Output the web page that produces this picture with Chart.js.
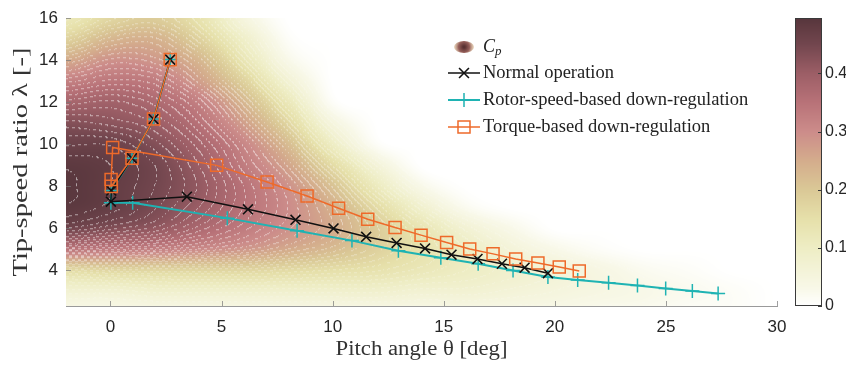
<!DOCTYPE html>
<html>
<head>
<meta charset="utf-8">
<title>Cp map with operating points</title>
<style>
  body { margin: 0; background: #fff; }
  #wrap { position: relative; width: 846px; height: 378px; }
</style>
</head>
<body>
<div id="wrap"><canvas id="cpChart"></canvas></div>
<script src="https://cdn.jsdelivr.net/npm/chart.js@4.4.1/dist/chart.umd.min.js"></script>
<script>
// tick labels
var xTicks = [0, 5, 10, 15, 20, 25, 30];
var yTicks = [4, 6, 8, 10, 12, 14, 16];
var cbTicks = [0, 0.1, 0.2, 0.3, 0.4];

// operating points, pitch angle [deg] and tip-speed ratio [-]
var normalPitch = [2.69, 1.94, 0.97, 0.04, 0.02, 3.44, 6.19, 8.33, 10.04, 11.51, 12.88, 14.16, 15.35, 16.52, 17.62, 18.64, 19.69];
var normalTsr   = [14.03, 11.2, 9.34, 7.8, 7.27, 7.51, 6.91, 6.41, 6.0, 5.6, 5.31, 5.05, 4.75, 4.55, 4.32, 4.13, 3.87];

var rotorPitch = [2.69, 1.94, 0.97, 0.04, 0.02, 1.0, 5.26, 8.4, 10.87, 12.96, 14.87, 16.55, 18.12, 19.69, 21.03, 22.42, 23.72, 24.99, 26.19, 27.35];
var rotorTsr   = [14.03, 11.2, 9.34, 7.8, 7.22, 7.22, 6.49, 5.89, 5.42, 4.94, 4.6, 4.32, 4.0, 3.69, 3.55, 3.42, 3.29, 3.14, 3.02, 2.9];

var torquePitch = [2.69, 1.94, 0.97, 0.04, 0.03, 0.1, 4.78, 7.05, 8.85, 10.27, 11.58, 12.81, 13.98, 15.13, 16.17, 17.22, 18.24, 19.24, 20.2, 21.1];
var torqueTsr   = [14.03, 11.2, 9.34, 8.0, 8.33, 9.85, 9.0, 8.21, 7.54, 6.96, 6.44, 6.04, 5.68, 5.33, 5.02, 4.79, 4.55, 4.36, 4.16, 3.97];

// Cp surface, rough values (rows: tsr, cols: pitch)
var cpPitch = [-2, 0, 2, 4, 6, 8, 10, 12, 14, 16, 18, 20, 22, 24, 26, 28, 30];
var cpTsr = [16, 15, 14, 13, 12, 11, 10, 9, 8, 7, 6, 5, 4, 3, 2];
var cpValues = [
  [0.12, 0.17, 0.19, 0.14, 0.05, 0.00, 0, 0, 0, 0, 0, 0, 0, 0, 0, 0, 0],
  [0.18, 0.23, 0.24, 0.18, 0.09, 0.01, 0, 0, 0, 0, 0, 0, 0, 0, 0, 0, 0],
  [0.25, 0.29, 0.28, 0.23, 0.13, 0.03, 0, 0, 0, 0, 0, 0, 0, 0, 0, 0, 0],
  [0.32, 0.34, 0.33, 0.27, 0.18, 0.07, 0, 0, 0, 0, 0, 0, 0, 0, 0, 0, 0],
  [0.38, 0.39, 0.37, 0.32, 0.23, 0.12, 0.01, 0, 0, 0, 0, 0, 0, 0, 0, 0, 0],
  [0.43, 0.42, 0.40, 0.35, 0.27, 0.17, 0.05, 0, 0, 0, 0, 0, 0, 0, 0, 0, 0],
  [0.46, 0.46, 0.43, 0.38, 0.31, 0.22, 0.10, 0.01, 0, 0, 0, 0, 0, 0, 0, 0, 0],
  [0.485, 0.475, 0.45, 0.40, 0.33, 0.26, 0.16, 0.06, 0, 0, 0, 0, 0, 0, 0, 0, 0],
  [0.49, 0.475, 0.45, 0.41, 0.35, 0.29, 0.21, 0.11, 0.03, 0, 0, 0, 0, 0, 0, 0, 0],
  [0.485, 0.47, 0.44, 0.40, 0.35, 0.30, 0.24, 0.16, 0.08, 0.02, 0, 0, 0, 0, 0, 0, 0],
  [0.45, 0.43, 0.41, 0.37, 0.33, 0.29, 0.25, 0.19, 0.13, 0.07, 0.03, 0, 0, 0, 0, 0, 0],
  [0.34, 0.33, 0.32, 0.30, 0.28, 0.25, 0.22, 0.18, 0.14, 0.10, 0.06, 0.03, 0.01, 0, 0, 0, 0],
  [0.16, 0.17, 0.17, 0.17, 0.17, 0.16, 0.15, 0.14, 0.12, 0.10, 0.08, 0.06, 0.04, 0.02, 0.01, 0, 0],
  [0.07, 0.07, 0.08, 0.08, 0.08, 0.08, 0.08, 0.08, 0.07, 0.07, 0.06, 0.05, 0.04, 0.03, 0.02, 0.01, 0],
  [0.03, 0.03, 0.03, 0.03, 0.03, 0.03, 0.03, 0.03, 0.03, 0.03, 0.03, 0.03, 0.02, 0.02, 0.01, 0.01, 0]
];

// colormap (pink/brown-ish like the original)
var cmapStops = [0, 0.03, 0.1, 0.15, 0.2, 0.25, 0.3, 0.35, 0.4, 0.45, 0.5];
var cmapRgb = [[255,255,255],[248,248,232],[238,237,196],[230,224,170],[218,200,150],[212,172,140],[204,140,138],[184,114,120],[156,94,102],[114,70,78],[84,52,58]];

var cbMax = 0.495;
var contourStep = 0.0125;

function cpColour(v) {
  if (v <= cmapStops[0]) return cmapRgb[0];
  for (var i = 1; i < cmapStops.length; i++) {
    if (v <= cmapStops[i]) {
      var t = (v - cmapStops[i-1]) / (cmapStops[i] - cmapStops[i-1]);
      var a = cmapRgb[i-1], b = cmapRgb[i];
      return [a[0] + (b[0]-a[0])*t, a[1] + (b[1]-a[1])*t, a[2] + (b[2]-a[2])*t];
    }
  }
  return cmapRgb[cmapRgb.length-1];
}

function gridAt(r, c) {
  r = Math.max(0, Math.min(cpTsr.length - 1, r));
  c = Math.max(0, Math.min(cpPitch.length - 1, c));
  return cpValues[r][c];
}
function catmull(p0, p1, p2, p3, t) {
  return p1 + 0.5 * t * (p2 - p0 + t * (2*p0 - 5*p1 + 4*p2 - p3 + t * (3*(p1 - p2) + p3 - p0)));
}
function sampleCp(th, lam) {
  var u = (th - cpPitch[0]) / (cpPitch[1] - cpPitch[0]);
  var v = (lam - cpTsr[0]) / (cpTsr[1] - cpTsr[0]);
  var c = Math.floor(u), r = Math.floor(v), tu = u - c, tv = v - r;
  var col = [];
  for (var k = -1; k <= 2; k++) {
    col.push(catmull(gridAt(r+k, c-1), gridAt(r+k, c), gridAt(r+k, c+1), gridAt(r+k, c+2), tu));
  }
  return Math.max(0, catmull(col[0], col[1], col[2], col[3], tv));
}

// stretched text, the original's axis labels are wider than the fonts we have
function stretchText(ctx, text, x, y, len, rot) {
  ctx.save();
  ctx.translate(x, y);
  ctx.rotate(rot);
  var w = ctx.measureText(text).width;
  ctx.scale(len / w, 1);
  ctx.textAlign = 'center';
  ctx.textBaseline = 'middle';
  ctx.fillText(text, 0, 0);
  ctx.restore();
}

var mapCache = null;
var cpMap = {
  id: 'cpMap',
  beforeDatasetsDraw: function(chart) {
    var a = chart.chartArea, xs = chart.scales.x, ys = chart.scales.y;
    var w = Math.round(a.right - a.left), h = Math.round(a.bottom - a.top);
    if (!mapCache || mapCache.width != w || mapCache.height != h) {
      mapCache = document.createElement('canvas');
      mapCache.width = w; mapCache.height = h;
      var octx = mapCache.getContext('2d');
      var img = octx.createImageData(w, h);
      var vals = new Float32Array(w * h);
      for (var j = 0; j < h; j++) {
        var lam = ys.getValueForPixel(a.top + j + 0.5);
        for (var i = 0; i < w; i++) {
          vals[j*w + i] = sampleCp(xs.getValueForPixel(a.left + i + 0.5), lam);
        }
      }
      for (var j = 0; j < h; j++) {
        for (var i = 0; i < w; i++) {
          var v = vals[j*w + i];
          var col = cpColour(v);
          var k = Math.floor(v / contourStep);
          var edge = false;
          if (v > 0.02) {
            if (i + 1 < w && Math.floor(vals[j*w + i + 1] / contourStep) != k) edge = true;
            if (j + 1 < h && Math.floor(vals[(j+1)*w + i] / contourStep) != k) edge = true;
          }
          if (edge && (Math.floor(i / 3) + Math.floor(j / 3)) % 2 == 0) {
            var al = 0.12 + 0.4 * Math.min(1, v / 0.35);
            col = [col[0] + (255-col[0])*al, col[1] + (255-col[1])*al, col[2] + (255-col[2])*al];
          }
          var p = (j*w + i) * 4;
          img.data[p] = col[0]; img.data[p+1] = col[1]; img.data[p+2] = col[2]; img.data[p+3] = 255;
        }
      }
      octx.putImageData(img, 0, 0);
    }
    var ctx = chart.ctx;
    ctx.drawImage(mapCache, a.left, a.top);

    // small inward ticks, matlab style
    ctx.save();
    ctx.strokeStyle = 'rgba(120,120,120,0.7)';
    ctx.lineWidth = 1;
    xTicks.forEach(function(t) {
      var px = Math.round(xs.getPixelForValue(t)) + 0.5;
      ctx.beginPath(); ctx.moveTo(px, a.bottom); ctx.lineTo(px, a.bottom - 5); ctx.stroke();
    });
    yTicks.forEach(function(t) {
      var py = Math.round(ys.getPixelForValue(t)) + 0.5;
      ctx.beginPath(); ctx.moveTo(a.left, py); ctx.lineTo(a.left + 5, py); ctx.stroke();
    });
    ctx.restore();
  },
  afterDraw: function(chart) {
    var ctx = chart.ctx, cb = chart.scales.cb, a = chart.chartArea;
    // colour bar
    var bx = cb.left + 18, bw = 27;
    var top = Math.round(cb.getPixelForValue(cbMax)), bot = Math.round(cb.getPixelForValue(0));
    for (var y = top; y < bot; y++) {
      var c = cpColour(cb.getValueForPixel(y + 0.5));
      ctx.fillStyle = 'rgb(' + Math.round(c[0]) + ',' + Math.round(c[1]) + ',' + Math.round(c[2]) + ')';
      ctx.fillRect(bx, y, bw, 1);
    }
    ctx.save();
    ctx.strokeStyle = '#3a3a3a';
    ctx.lineWidth = 1;
    ctx.strokeRect(bx + 0.5, top + 0.5, bw - 1, bot - top - 1);
    cbTicks.forEach(function(t) {
      var py = Math.round(cb.getPixelForValue(t)) + 0.5;
      ctx.beginPath(); ctx.moveTo(bx + bw - 4, py); ctx.lineTo(bx + bw, py); ctx.stroke();
    });
    ctx.restore();

    // axis titles
    ctx.save();
    ctx.fillStyle = '#333';
    ctx.font = '20px "Liberation Serif"';
    stretchText(ctx, 'Pitch angle θ [deg]', (a.left + a.right) / 2, 350, 172, 0);
    stretchText(ctx, 'Tip-speed ratio λ [-]', 22, 162, 229, -Math.PI / 2);
    ctx.restore();

    // legend
    var lx0 = 448, lx1 = 480, tx = 483;
    var rows = [47, 73, 100, 127];
    ctx.save();
    // Cp blob
    var g = ctx.createRadialGradient(464, rows[0], 1, 464, rows[0], 10);
    g.addColorStop(0, 'rgb(90,50,50)');
    g.addColorStop(0.5, 'rgb(150,95,90)');
    g.addColorStop(1, 'rgba(220,190,150,0.6)');
    ctx.fillStyle = g;
    ctx.beginPath(); ctx.ellipse(464, rows[0], 10, 6, 0, 0, Math.PI*2); ctx.fill();
    ctx.fillStyle = '#222';
    ctx.textBaseline = 'middle';
    ctx.font = 'italic 18px "Liberation Serif"';
    ctx.fillText('C', tx, rows[0]);
    var cw = ctx.measureText('C').width;
    ctx.font = 'italic 13px "Liberation Serif"';
    ctx.fillText('p', tx + cw, rows[0] + 5);
    chart.data.datasets.forEach(function(ds, i) {
      var y = rows[i + 1];
      ctx.strokeStyle = ds.borderColor;
      ctx.lineWidth = ds.borderWidth;
      ctx.beginPath(); ctx.moveTo(lx0, y); ctx.lineTo(lx1, y); ctx.stroke();
      ctx.fillStyle = 'rgba(0,0,0,0)';
      ctx.lineWidth = ds.pointBorderWidth;
      Chart.helpers.drawPoint(ctx, {pointStyle: ds.pointStyle, radius: ds.pointRadius, borderWidth: ds.pointBorderWidth}, (lx0 + lx1) / 2, y);
      ctx.fillStyle = '#222';
      ctx.font = '18.5px "Liberation Serif"';
      ctx.fillText(ds.label, tx, y);
    });
    ctx.restore();
  }
};

function pts(px, py) {
  return px.map(function(p, i) { return {x: p, y: py[i]}; });
}

var tickFont = {family: '"Liberation Sans", Arial, sans-serif', size: 17};

var ctx = document.getElementById('cpChart').getContext('2d');
var chart = new Chart(ctx, {
  type: 'scatter',
  data: {
    datasets: [{
      label: 'Normal operation',
      data: pts(normalPitch, normalTsr),
      showLine: true,
      borderColor: '#111111',
      backgroundColor: 'rgba(0,0,0,0)',
      borderWidth: 1.5,
      pointStyle: 'crossRot',
      pointRadius: 7,
      pointBorderWidth: 1.6,
      order: 2
    }, {
      label: 'Rotor-speed-based down-regulation',
      data: pts(rotorPitch, rotorTsr),
      showLine: true,
      borderColor: '#1fb3b3',
      backgroundColor: 'rgba(0,0,0,0)',
      borderWidth: 2,
      pointStyle: 'cross',
      pointRadius: 7,
      pointBorderWidth: 1.5,
      order: 3
    }, {
      label: 'Torque-based down-regulation',
      data: pts(torquePitch, torqueTsr),
      showLine: true,
      borderColor: '#ee6a2a',
      backgroundColor: 'rgba(0,0,0,0)',
      borderWidth: 1.5,
      pointStyle: 'rect',
      pointRadius: 8.5,
      pointBorderWidth: 1.5,
      order: 1
    }]
  },
  options: {
    responsive: true,
    maintainAspectRatio: false,
    animation: false,
    layout: {padding: {top: 15, left: 0, right: 0, bottom: 0}},
    plugins: {legend: {display: false}, tooltip: {enabled: false}},
    scales: {
      x: {
        type: 'linear', min: -2, max: 30,
        afterBuildTicks: function(s) { s.ticks = xTicks.map(function(v) { return {value: v}; }); },
        afterFit: function(s) { s.height = 72; },
        grid: {display: false, drawTicks: false},
        border: {display: true, color: '#9a9a9a', width: 1},
        ticks: {font: tickFont, color: '#262626', padding: 11, maxRotation: 0}
      },
      y: {
        type: 'linear', min: 2.31, max: 16,
        afterBuildTicks: function(s) { s.ticks = yTicks.map(function(v) { return {value: v}; }); },
        afterFit: function(s) { s.width = 66; },
        grid: {display: false, drawTicks: false},
        border: {display: true, color: '#9a9a9a', width: 1},
        ticks: {font: tickFont, color: '#262626', padding: 8}
      },
      cb: {
        type: 'linear', position: 'right', min: 0, max: cbMax,
        afterBuildTicks: function(s) { s.ticks = cbTicks.map(function(v) { return {value: v}; }); },
        afterFit: function(s) { s.width = 69; },
        grid: {display: false, drawTicks: true, tickLength: 46},
        border: {display: false},
        ticks: {font: {family: tickFont.family, size: 16}, color: '#262626', padding: 2}
      }
    }
  },
  plugins: [cpMap]
});
</script>
</body>
</html>
